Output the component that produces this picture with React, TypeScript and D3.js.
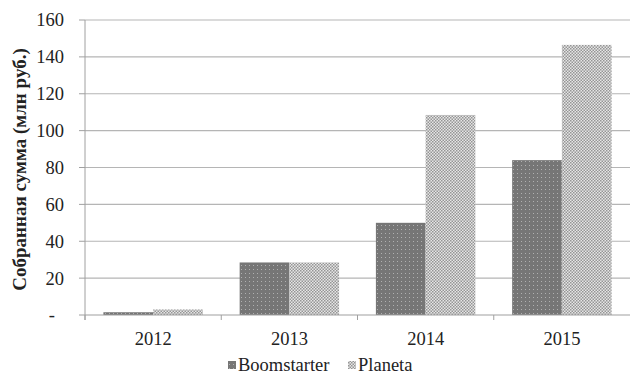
import React from 'react';
import * as d3 from 'd3';

const years = ['2012', '2013', '2014', '2015'];
const seriesNames = ['Boomstarter', 'Planeta'];
const boomstarter = [1.5, 28.5, 50, 84];
const planeta = [3, 28.5, 108.5, 146.5];
const yTicks = [0, 20, 40, 60, 80, 100, 120, 140, 160];

const W = 631;
const H = 376;
const m = { left: 85, right: 1, top: 20, bottom: 61 };
const serif = "'Liberation Serif', 'Times New Roman', serif";

const App: React.FC = () => {
  const x = d3.scaleBand<string>().domain(years).range([m.left, W - m.right]).paddingInner(0).paddingOuter(0);
  const inner = d3.scaleBand<string>().domain(seriesNames).range([0, x.bandwidth()]).paddingOuter(0.37).paddingInner(0);
  const y = d3.scaleLinear().domain([0, 160]).range([H - m.bottom, m.top]);
  const values = [boomstarter, planeta];
  const fills = ['url(#patA)', 'url(#patB)'];

  return (
    <svg width={W} height={H} style={{ position: 'absolute', left: 0, top: 0, background: '#fff', fontFamily: serif }}>
      <defs>
        <pattern id="patA" width="4" height="4" patternUnits="userSpaceOnUse">
          <rect width="4" height="4" fill="#767676" />
          <rect x="1" y="1" width="1" height="1" fill="#b0b0b0" />
        </pattern>
        <pattern id="patB" width="3" height="3" patternUnits="userSpaceOnUse">
          <rect width="3" height="3" fill="#e6e6e6" />
          <rect x="0" y="0" width="1.5" height="1.5" fill="#959595" />
          <rect x="1.5" y="1.5" width="1.5" height="1.5" fill="#959595" />
        </pattern>
      </defs>

      {yTicks.map(t => (
        <g key={t}>
          {t > 0 && <line x1={m.left} x2={W - m.right} y1={y(t)} y2={y(t)} stroke="#b5b5b5" strokeWidth={1.2} />}
          <line x1={m.left - 6} x2={m.left} y1={y(t)} y2={y(t)} stroke="#a0a0a0" />
          <text x={t === 0 ? 55 : 64} y={y(t)} dy="0.35em" textAnchor="end" fontSize={18.5} fill="#222" fontFamily={serif}>
            {t === 0 ? '-' : t}
          </text>
        </g>
      ))}

      {years.map((yr, i) => (
        <g key={yr}>
          {seriesNames.map((s, j) => (
            <rect key={s} x={(x(yr) ?? 0) + (inner(s) ?? 0)} width={inner.bandwidth()}
              y={y(values[j][i])} height={y(0) - y(values[j][i])} fill={fills[j]} />
          ))}
          <text x={(x(yr) ?? 0) + x.bandwidth() / 2} y={H - m.bottom + 30} textAnchor="middle" fontSize={18.5} fill="#222" fontFamily={serif}>{yr}</text>
        </g>
      ))}

      <line x1={m.left} x2={m.left} y1={m.top} y2={H - m.bottom + 5} stroke="#a0a0a0" />
      <line x1={m.left} x2={W - m.right} y1={y(0)} y2={y(0)} stroke="#a0a0a0" strokeWidth={1.2} />
      {years.map(yr => (
        <line key={yr} x1={x(yr) ?? 0} x2={x(yr) ?? 0} y1={y(0)} y2={y(0) + 5} stroke="#a0a0a0" />
      ))}

      <text transform={`translate(26, ${(m.top + H - m.bottom) / 2 + 2}) rotate(-90)`} textAnchor="middle"
        fontSize={19} fontWeight="bold" fill="#222" fontFamily={serif}>Собранная сумма (млн  руб.)</text>

      <g transform="translate(228, 371)">
        <rect x={0} y={-10} width={8} height={8} fill="url(#patA)" />
        <text x={10} y={0} fontSize={18.5} fill="#222" fontFamily={serif}>{seriesNames[0]}</text>
        <rect x={120} y={-10} width={8} height={8} fill="url(#patB)" />
        <text x={130} y={0} fontSize={18.5} fill="#222" fontFamily={serif}>{seriesNames[1]}</text>
      </g>
    </svg>
  );
};

export default App;
